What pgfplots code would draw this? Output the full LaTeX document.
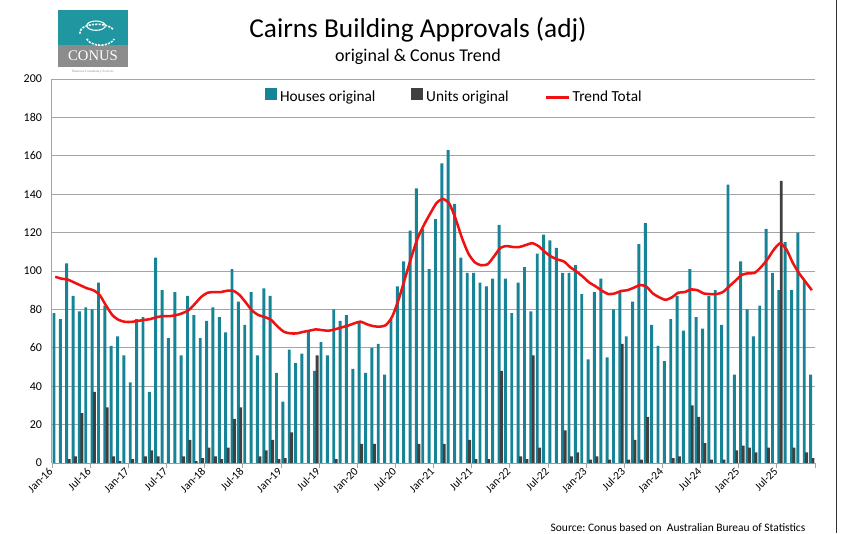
\documentclass[border=0pt]{standalone}
\usepackage{pgfplots}
\pgfplotsset{compat=1.18}
\usepackage{pgfplotstable}
\usepackage{fontspec}
\setmainfont{Carlito}
\newfontfamily\logofont{Liberation Serif}

\definecolor{houseteal}{RGB}{22,132,150}
\definecolor{unitgray}{RGB}{64,64,64}
\definecolor{trendred}{RGB}{240,18,18}
\definecolor{gridgray}{RGB}{165,165,165}
\definecolor{logoteal}{RGB}{32,150,160}
\definecolor{logogray}{RGB}{140,140,140}

% month index (0 = Jan-16), houses, units, trend
\pgfplotstableread{
m houses units trend
0 78 0 97
1 75 0 96
2 104 2 95.5
3 87 3.5 94
4 79 26 92.5
5 81 0 91
6 80 37 90
7 94 0 87.5
8 82 29 82
9 61 3.5 77
10 66 1 74.5
11 56 0 73.5
12 42 2 73.5
13 75 0 74
14 76 3.5 74.5
15 37 6.6 75
16 107 3.5 76
17 90 0 76.5
18 65 0 76.5
19 89 0 77
20 56 3.5 78
21 87 12 79.6
22 77 1 83
23 65 2.6 86.6
24 74 8 88.7
25 81 3.5 89
26 76 2 89
27 68 8 89.7
28 101 23 89.7
29 84 29 87.5
30 72 0 83.5
31 89 0 79.3
32 56 3.5 77
33 91 6.6 76
34 87 12 74.4
35 47 2 71
36 32 2.6 68.3
37 59 16 67.5
38 52 0 67.5
39 57 0 68.3
40 69 0 68.9
41 48 56 69.6
42 63 0 69.2
43 56 0 68.9
44 80 2 69.6
45 74 0 70.6
46 77 0 71.5
47 49 0 72.7
48 74 10 73.6
49 47 0 72.3
50 60 10 71.3
51 62 0 71
52 46 0 71.8
53 75 0 76.2
54 92 0 85
55 105 0 96
56 121 0 107
57 143 10 117
58 122 0 124
59 101 0 130
60 127 0 135.5
61 156 10 137.5
62 163 0 135
63 135 0 127
64 107 0 117
65 99 12 109
66 99 2 104.5
67 94 0 103
68 92 2 103.5
69 96 0 107.5
70 124 48 112
71 96 0 113
72 78 0 112.5
73 94 3.5 112.5
74 102 2 113.5
75 79 56 114.5
76 109 8 113
77 119 0 110
78 116 0 107.5
79 112 0 106
80 99 17 105
81 99 3.5 102
82 103 5.6 99.7
83 88 0 97
84 54 1.7 94
85 89 3.5 92
86 96 0 89.7
87 55 1.7 88
88 80 0 88.3
89 89 62 89.6
90 66 1.7 90
91 84 12 91.3
92 114 1.7 92.7
93 125 24 91.8
94 72 0 88.3
95 61 0 86.3
96 53 0 85
97 75 2.6 86.3
98 87 3.5 88.7
99 69 0 89
100 101 30 90.4
101 76 24 90
102 70 10.4 88.3
103 87 1.7 88
104 90 0 88
105 72 1.7 89
106 145 0 92
107 46 6.6 95
108 105 9 98
109 80 8 98.8
110 66 5.6 99
111 82 0 102
112 122 8 106
113 99 0 111
114 90 147 114.4
115 115 0 111.3
116 90 8 104.3
117 120 0 98.8
118 95 5.6 94.4
119 46 2.6 90
}\approvals

\begin{document}
\begin{tikzpicture}
\useasboundingbox (-39pt,-52.5pt) rectangle (595.5pt,347.25pt);

\begin{axis}[
    scale only axis,
    width=572.25pt,
    height=288pt,
    xmin=-0.5, xmax=119.5,
    ymin=0, ymax=200,
    ytick={0,20,...,200},
    xtick={-0.5,5.5,...,119.5},
    xticklabels={Jan-16,Jul-16,Jan-17,Jul-17,Jan-18,Jul-18,Jan-19,Jul-19,Jan-20,Jul-20,
                 Jan-21,Jul-21,Jan-22,Jul-22,Jan-23,Jul-23,Jan-24,Jul-24,Jan-25,Jul-25,{}},
    axis lines*=left,
    axis line style={draw=gridgray, line width=0.75pt},
    ymajorgrids,
    grid style={draw=gridgray, line width=0.6pt},
    ytick style={draw=none},
    xtick style={draw=gridgray, line width=0.6pt},
    tick align=outside,
    major tick length=4pt,
    /pgf/number format/assume math mode=true,
    xticklabel style={rotate=45, anchor=east, inner sep=1pt, font=\fontsize{8.5}{9}\selectfont},
    yticklabel style={font=\fontsize{9}{10}\selectfont},
    legend style={at={(0.528,0.953)}, anchor=center, draw=none, fill=none,
                  font=\fontsize{11.5}{13}\selectfont},
    legend columns=3,
    legend cell align=left,
    /tikz/every even column/.append style={column sep=25pt},
    clip=false
]

\addplot[ybar, bar width=2.2pt, bar shift=-0.9pt, fill=houseteal, draw=none,
    legend image code/.code={\fill[houseteal] (0pt,-1.5pt) rectangle (9pt,7.5pt);}]
    table[x=m, y=houses]{\approvals};
\addlegendentry{Houses original}

\addplot[ybar, bar width=2.2pt, bar shift=0.9pt, fill=unitgray, draw=none,
    legend image code/.code={\fill[unitgray] (0pt,-1.5pt) rectangle (9pt,7.5pt);}]
    table[x=m, y=units]{\approvals};
\addlegendentry{Units original}

\addplot[trendred, line width=1.9pt, smooth, tension=0.4, no markers]
    table[x=m, y=trend]{\approvals};
\addlegendentry{Trend Total}

\end{axis}

% titles
\node[font=\fontsize{20.5}{23}\selectfont] at (274.5pt,324.75pt) {Cairns Building Approvals (adj)};
\node[font=\fontsize{13.5}{15}\selectfont] at (274.5pt,304.5pt) {original \& Conus Trend};

% source
\node[anchor=east, font=\fontsize{8.6}{10}\selectfont] at (568.5pt,-48.75pt)
    {Source:\ Conus based on\ \ Australian Bureau of Statistics};

% logo
\fill[logoteal] (4.5pt,313.5pt) rectangle (57pt,339.75pt);
\fill[logogray] (4.5pt,297pt) rectangle (57pt,313.5pt);
\draw[white, line width=1.2pt, dash pattern=on 1.6pt off 0.9pt] (26pt,318pt) arc (200:340:11pt and 7pt);
\draw[white, line width=1.2pt, dash pattern=on 1.6pt off 0.9pt] (21pt,322pt) arc (190:20:13pt and 6pt);
\draw[white, line width=0.8pt] (33pt,328pt) ellipse (7pt and 3.5pt);
\node[white, font=\logofont\fontsize{11}{12}\selectfont] at (30.75pt,305.25pt) {CONUS};
\node[logogray, font=\logofont\fontsize{2.5}{3}\selectfont] at (30.75pt,293.25pt) {Business Consultancy Services};

% right border line
\draw[black!80, line width=0.6pt] (588pt,-52.5pt) -- (588pt,347.25pt);
\end{tikzpicture}
\end{document}
